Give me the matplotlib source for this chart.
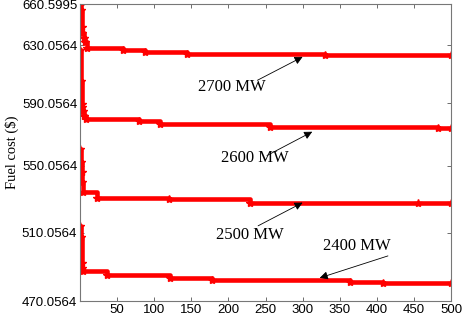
import numpy as np
import matplotlib
matplotlib.use('Agg')
import matplotlib.pyplot as plt

# y tick values (labels as printed on the original chart)
ytick_vals = [470.0564, 510.0564, 550.0564, 590.0564, 630.0564, 660.5995]
# the original axis is not evenly spaced between labels; relative tick heights
ytick_frac = [0.0, 0.2297, 0.4561, 0.6655, 0.8615, 1.0]
xtick_vals = [50, 100, 150, 200, 250, 300, 350, 400, 450, 500]

# convergence curves: iteration where the best cost changes, and the cost
it_2700 = [0, 1, 2, 3, 5, 7, 10, 58, 88, 144, 330, 500]
cost_2700 = [659.85, 656.13, 643.46, 638.99, 635.27, 632.29, 628.3, 626.6, 625.2, 623.8, 623.2, 623.2]

it_2600 = [0, 1, 2, 3, 4, 6, 8, 80, 108, 256, 482, 500]
cost_2600 = [626.6, 605.2, 589.4, 587.5, 584.9, 581.7, 579.7, 578.4, 576.5, 574.6, 574.0, 574.0]

it_2500 = [0, 1, 2, 3, 4, 23, 120, 229, 455, 500]
cost_2500 = [560.4, 552.6, 546.5, 540.5, 534.5, 531.0, 530.0, 528.0, 527.5, 527.5]

it_2400 = [0, 1, 2, 3, 4, 36, 121, 178, 364, 408, 500]
cost_2400 = [514.2, 507.7, 492.4, 489.5, 487.7, 485.3, 483.6, 482.4, 481.2, 480.6, 480.6]

labels = ['2700 MW', '2600 MW', '2500 MW', '2400 MW']
# text centre (iteration, cost)
text_it = [205, 236, 229, 373]
text_cost = [601.1, 554.6, 508.9, 502.4]
# arrow tail and head (iteration, cost)
tail_it = [239, 252, 240, 415]
tail_cost = [605.9, 556.5, 514.2, 496.5]
head_it = [300, 313, 300, 323]
head_cost = [622.0, 571.8, 528.0, 483.6]


def fwd(v):
    return np.interp(v, ytick_vals, ytick_frac)


def inv(f):
    return np.interp(f, ytick_frac, ytick_vals)


fig = plt.figure(figsize=(4.62, 3.19), dpi=100)
ax = fig.add_axes([0.1732, 0.0564, 0.8030, 0.9310])
ax.set_yscale('function', functions=(fwd, inv))

for its, cost in [(it_2700, cost_2700), (it_2600, cost_2600),
                  (it_2500, cost_2500), (it_2400, cost_2400)]:
    ax.plot(its, cost, color='red', linewidth=3.3, drawstyle='steps-post',
            marker='*', markersize=6, solid_capstyle='butt')

for i in range(len(labels)):
    ax.text(text_it[i], text_cost[i], labels[i], ha='center', va='center',
            fontsize=12, family='Liberation Serif')
    ax.annotate('', xy=(head_it[i], head_cost[i]), xytext=(tail_it[i], tail_cost[i]),
                arrowprops=dict(arrowstyle='-|>', color='black', lw=0.6,
                                mutation_scale=12, shrinkA=0, shrinkB=0))

ax.set_xlim(0, 500)
ax.set_ylim(470.0564, 660.5995)
ax.set_xticks(xtick_vals)
ax.set_yticks(ytick_vals)
ax.set_yticklabels(['%.4f' % v for v in ytick_vals])
ax.minorticks_off()
ax.tick_params(direction='in', length=3, width=0.5, top=True, right=True,
               labelsize=9.5, colors='#333333', pad=2)
for lab in ax.get_xticklabels() + ax.get_yticklabels():
    lab.set_family('Liberation Sans')
    lab.set_color('black')
for sp in ax.spines.values():
    sp.set_color('#777777')
    sp.set_linewidth(0.8)
ax.set_ylabel('Fuel cost ($)', family='Liberation Serif', fontsize=10.5, labelpad=2)

fig.savefig('out.png', dpi=100)
